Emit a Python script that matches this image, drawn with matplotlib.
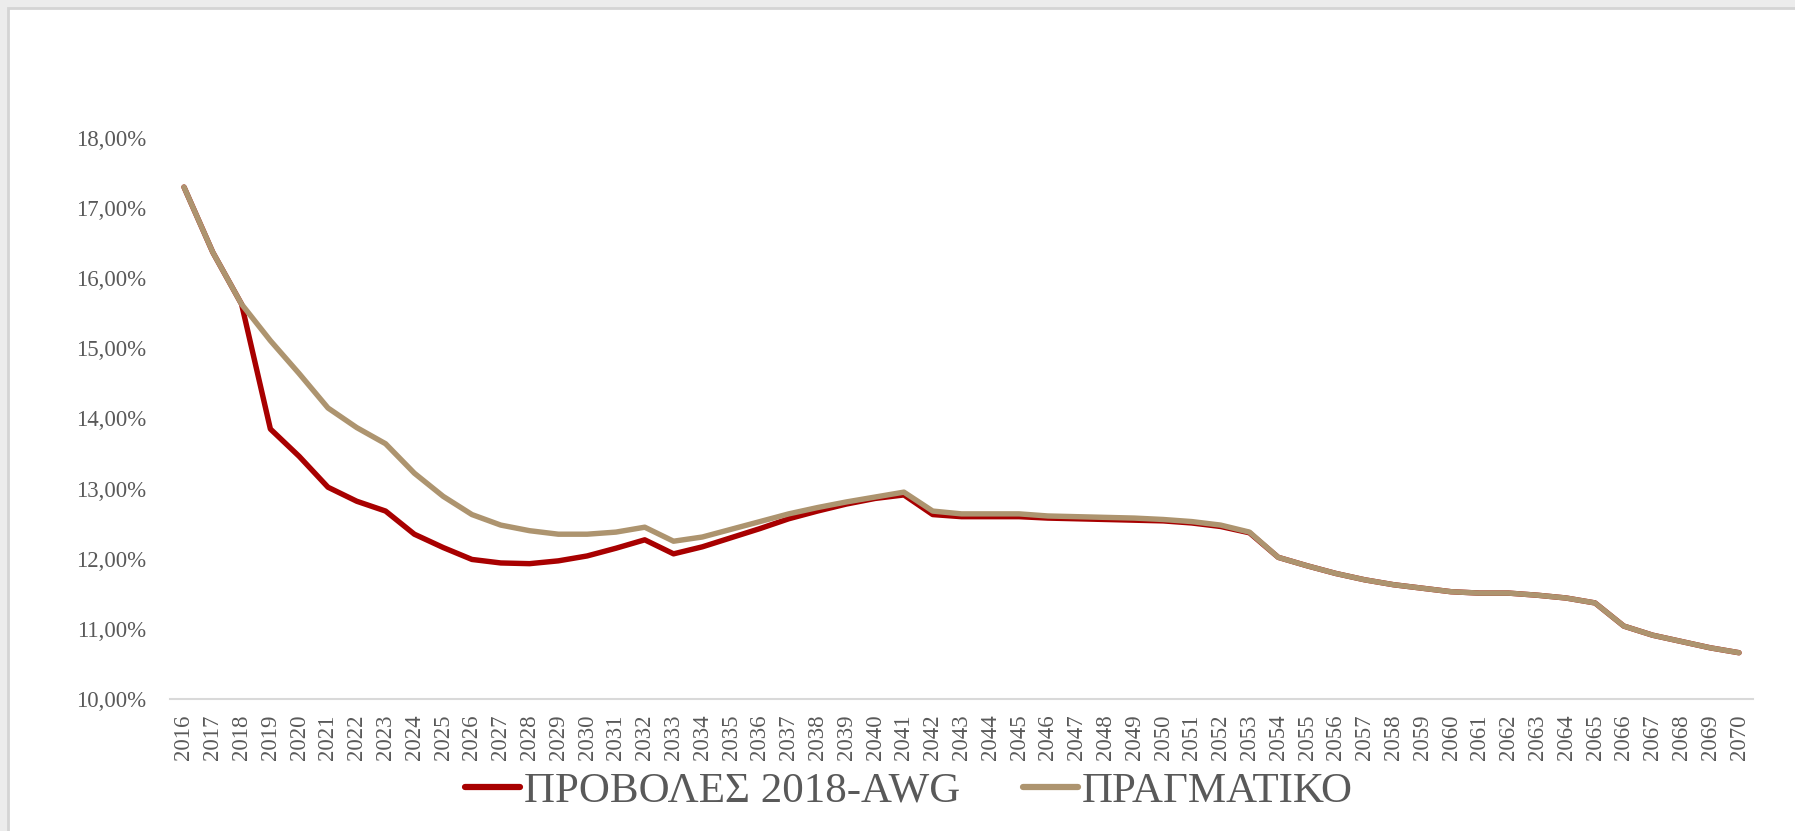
import matplotlib
matplotlib.use("Agg")
import matplotlib.pyplot as plt
from matplotlib.patches import Rectangle
from matplotlib.ticker import FuncFormatter

years = list(range(2016, 2071))

provoles_2018_awg = [
    17.30, 16.37, 15.63, 13.85, 13.46, 13.02, 12.82, 12.68, 12.35, 12.16,
    11.99, 11.94, 11.93, 11.97, 12.04, 12.15, 12.27, 12.07, 12.17, 12.30,
    12.43, 12.57, 12.68, 12.78, 12.86, 12.91, 12.63, 12.60, 12.60, 12.60,
    12.58, 12.57, 12.56, 12.55, 12.54, 12.51, 12.46, 12.37, 12.02, 11.90,
    11.79, 11.70, 11.63, 11.58, 11.53, 11.51, 11.51, 11.48, 11.44, 11.37,
    11.04, 10.91, 10.82, 10.73, 10.66,
]

pragmatiko = [
    17.30, 16.37, 15.63, 15.11, 14.64, 14.15, 13.87, 13.64, 13.22, 12.89,
    12.63, 12.48, 12.40, 12.35, 12.35, 12.38, 12.45, 12.25, 12.31, 12.42,
    12.53, 12.64, 12.73, 12.81, 12.88, 12.95, 12.68, 12.64, 12.64, 12.64,
    12.61, 12.60, 12.59, 12.58, 12.56, 12.53, 12.48, 12.38, 12.02, 11.90,
    11.79, 11.70, 11.63, 11.58, 11.53, 11.51, 11.51, 11.48, 11.44, 11.37,
    11.04, 10.91, 10.82, 10.73, 10.66,
]

series_names = ["ΠΡΟΒΟΛΕΣ 2018-AWG", "ΠΡΑΓΜΑΤΙΚΟ"]
y_ticks = [10, 11, 12, 13, 14, 15, 16, 17, 18]

plt.rcParams['font.family'] = ['Liberation Serif', 'DejaVu Serif']
text_color = '#595959'

W, H = 1795, 831
fig = plt.figure(figsize=(W / 100, H / 100), dpi=100)
fig.patch.set_facecolor('#ececec')

panel = Rectangle((8 / W, -0.05), 1.2, (H - 8) / H + 0.05, transform=fig.transFigure,
                  facecolor='white', edgecolor='#d4d4d4', linewidth=2, zorder=-10)
fig.add_artist(panel)

ax = fig.add_axes([169.6 / W, 1 - 699 / H, (1753.4 - 169.6) / W, (699 - 138) / H])
ax.set_facecolor('none')

x = list(range(len(years)))
ax.plot(x, provoles_2018_awg, color='#A80000', linewidth=3.9,
        solid_capstyle='round', solid_joinstyle='round', label=series_names[0], zorder=3)
ax.plot(x, pragmatiko, color='#AD946F', linewidth=3.9,
        solid_capstyle='round', solid_joinstyle='round', label=series_names[1], zorder=4)

ax.set_xlim(-0.5, len(years) - 0.5)
ax.set_ylim(10, 18)
ax.set_yticks(y_ticks)
ax.yaxis.set_major_formatter(FuncFormatter(lambda v, p: f"{v:.2f}%".replace('.', ',')))
ax.set_xticks(x)
ax.set_xticklabels([str(y) for y in years], rotation=90)

for s in ['top', 'right', 'left']:
    ax.spines[s].set_visible(False)
ax.spines['bottom'].set_color('#d9d9d9')
ax.spines['bottom'].set_linewidth(1.5)

ax.tick_params(axis='y', length=0, pad=17, labelsize=16.5, labelcolor=text_color)
ax.tick_params(axis='x', length=0, pad=11, labelsize=16.5, labelcolor=text_color)

leg = fig.legend(loc='center', bbox_to_anchor=(909 / W, 1 - 791 / H), ncol=2,
                 frameon=False, fontsize=31, handlelength=1.27, handletextpad=0.1,
                 columnspacing=1.45, labelcolor=text_color)
for line in leg.get_lines():
    line.set_linewidth(4.5)
    line.set_solid_capstyle('round')

fig.savefig('out.png', dpi=100, facecolor=fig.get_facecolor())
